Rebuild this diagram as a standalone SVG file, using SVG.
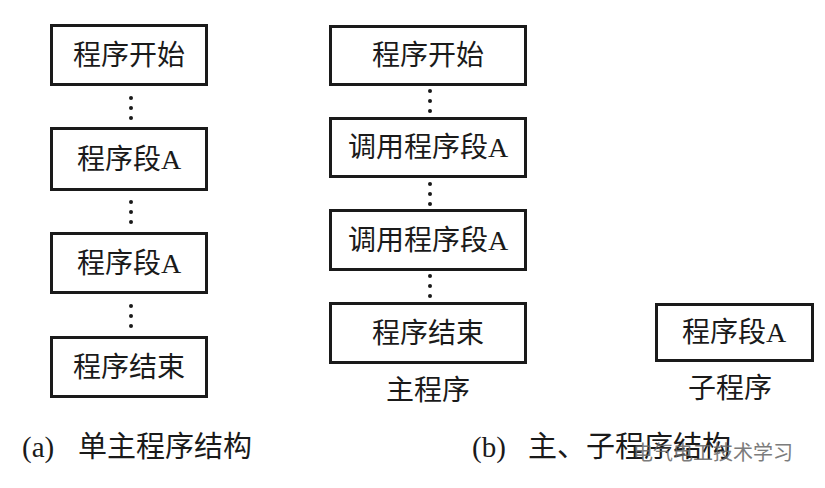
<svg xmlns="http://www.w3.org/2000/svg" width="825" height="488" viewBox="0 0 825 488">
<style>
.box{fill:#fff;stroke:#1a1a1a;stroke-width:3}
.t{font-family:"Liberation Serif","Noto Sans CJK SC",serif;font-size:28px;fill:#1a1a1a;text-anchor:middle}
.c{font-family:"Liberation Serif","Noto Sans CJK SC",serif;font-size:29px;fill:#1a1a1a}
.d{fill:#1a1a1a}
.wm{font-family:"Noto Sans CJK SC",sans-serif;font-size:20px;fill:#666;opacity:0.85}
</style>
<rect width="825" height="488" fill="#fff"/>
<g id="connectors">
<circle class="d" cx="131" cy="98" r="2"/><circle class="d" cx="131" cy="108" r="2"/><circle class="d" cx="131" cy="118" r="2"/>
<circle class="d" cx="131" cy="202" r="2"/><circle class="d" cx="131" cy="212" r="2"/><circle class="d" cx="131" cy="222" r="2"/>
<circle class="d" cx="131" cy="306" r="2"/><circle class="d" cx="131" cy="316" r="2"/><circle class="d" cx="131" cy="326" r="2"/>
<circle class="d" cx="430" cy="91" r="2"/><circle class="d" cx="430" cy="101" r="2"/><circle class="d" cx="430" cy="111" r="2"/>
<circle class="d" cx="430" cy="184" r="2"/><circle class="d" cx="430" cy="194" r="2"/><circle class="d" cx="430" cy="204" r="2"/>
<circle class="d" cx="430" cy="276" r="2"/><circle class="d" cx="430" cy="286" r="2"/><circle class="d" cx="430" cy="296" r="2"/>
</g>
<g id="a_start"><rect class="box" x="51.5" y="25.5" width="155" height="59"/><text class="t" x="129" y="65">程序开始</text></g>
<g id="a_segA1"><rect class="box" x="51.5" y="128.5" width="155" height="61"/><text class="t" x="129" y="169">程序段A</text></g>
<g id="a_segA2"><rect class="box" x="51.5" y="233.5" width="155" height="59"/><text class="t" x="129" y="273">程序段A</text></g>
<g id="a_end"><rect class="box" x="51.5" y="337.5" width="155" height="59"/><text class="t" x="129" y="377">程序结束</text></g>
<g id="b_start"><rect class="box" x="330.5" y="26.5" width="195" height="58"/><text class="t" x="428" y="65">程序开始</text></g>
<g id="b_call1"><rect class="box" x="330.5" y="118.5" width="195" height="58"/><text class="t" x="428" y="157">调用程序段A</text></g>
<g id="b_call2"><rect class="box" x="330.5" y="210.5" width="195" height="59"/><text class="t" x="428" y="250">调用程序段A</text></g>
<g id="b_end"><rect class="box" x="330.5" y="303.5" width="195" height="59"/><text class="t" x="428" y="343">程序结束</text></g>
<g id="b_sub"><rect class="box" x="656.5" y="304.5" width="156" height="56"/><text class="t" x="734" y="342">程序段A</text></g>
<g id="labels">
<text class="t" x="428" y="400">主程序</text>
<text class="t" x="730" y="398">子程序</text>
<text class="c" x="22" y="457">(a)<tspan x="78">单主程序结构</tspan></text>
<text class="c" x="472" y="457">(b)<tspan x="528">主、子程序结构</tspan></text>
<text class="wm" x="633" y="460">电气电工技术学习</text>
</g>
</svg>
